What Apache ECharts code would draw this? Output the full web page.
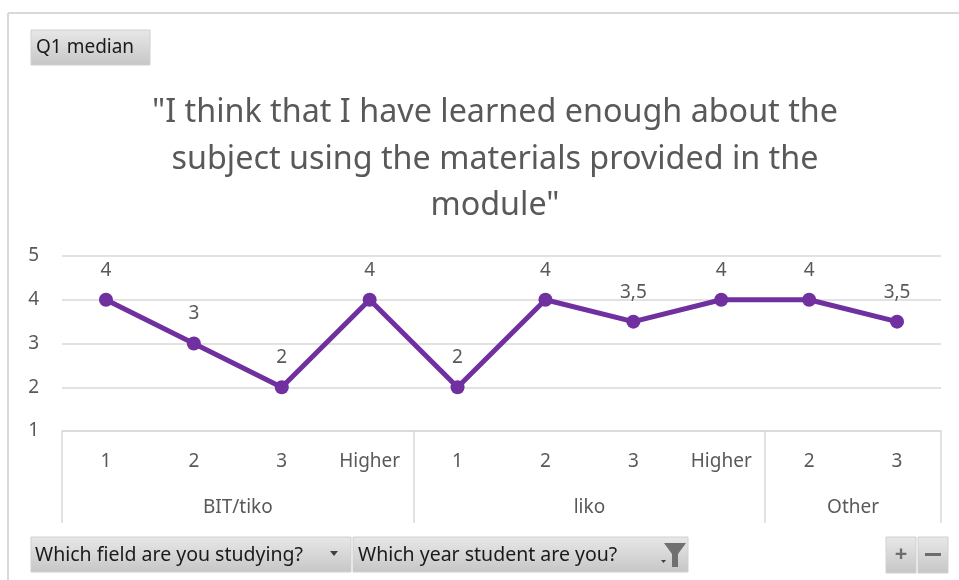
<!DOCTYPE html>
<html><head><meta charset="utf-8">
<script src="https://cdn.jsdelivr.net/npm/echarts@6/dist/echarts.min.js"></script>
<style>html,body{margin:0;padding:0;background:#fff}#c{width:959px;height:580px}</style>
</head><body><div id="c"></div>
<script>
const years = ['1','2','3','Higher','1','2','3','Higher','2','3'];
const groups = ['BIT/tiko','liko','Other'];
const groupSizes = [4,4,2];
const medians = [4,3,2,4,2,4,3.5,4,4,3.5];
const yTicks = [1,2,3,4,5];
const titleText = '"I think that I have learned enough about the\nsubject using the materials provided in the\nmodule"';

const FONT = '"Noto Sans", sans-serif';
const bounds = [0]; groupSizes.forEach(s => bounds.push(bounds[bounds.length-1] + s));
const centers = groupSizes.map((s,i) => bounds[i] + s/2);
const total = bounds[bounds.length-1];

function btnFill(){return new echarts.graphic.LinearGradient(0,0,0,1,[{offset:0,color:'#e8e8e8'},{offset:1,color:'#c6c6c6'}]);}
function button(x,y,w,h){return {type:'rect',shape:{x:x,y:y,width:w,height:h},style:{fill:btnFill(),stroke:'#d0d0d0',lineWidth:1},silent:true};}
function label(x,y,t,s){return {type:'text',x:x,y:y,style:{text:t,font:(s||19.5)+'px '+FONT,fill:'#1a1a1a',textVerticalAlign:'middle'},silent:true};}

const chart = echarts.init(document.getElementById('c'));
chart.setOption({
  animation:false,
  title:{text:titleText,left:490,top:85,textAlign:'center',
    textStyle:{fontFamily:FONT,fontSize:32.3,fontWeight:'normal',color:'#595959',lineHeight:46.5}},
  grid:{left:62,right:18,top:256,bottom:149},
  xAxis:[
    {type:'category',data:years,boundaryGap:true,position:'bottom',offset:0,
      axisLine:{show:true,lineStyle:{color:'#d9d9d9',width:1.5}},
      axisTick:{show:false},
      axisLabel:{interval:0,margin:21,fontFamily:FONT,fontSize:19,color:'#595959'}},
    {type:'value',min:0,max:total,position:'bottom',offset:0,
      axisLine:{show:false},splitLine:{show:false},
      axisTick:{show:true,customValues:bounds,length:92,lineStyle:{color:'#d9d9d9',width:1.5}},
      axisLabel:{customValues:centers,margin:67,fontFamily:FONT,fontSize:19,color:'#595959',
        formatter:function(v){const i=centers.indexOf(v);return i>=0?groups[i]:'';}}}
  ],
  yAxis:{type:'value',min:yTicks[0],max:yTicks[yTicks.length-1],interval:1,
    axisLine:{show:false},axisTick:{show:false},
    splitLine:{lineStyle:{color:'#d9d9d9',width:1.5}},
    axisLabel:{margin:23,fontFamily:FONT,fontSize:19,color:'#595959'}},
  series:[{type:'line',data:medians,xAxisIndex:0,
    symbol:'circle',symbolSize:14,
    lineStyle:{color:'#7030A0',width:5},itemStyle:{color:'#7030A0'},
    label:{show:true,position:'top',distance:13,fontFamily:FONT,fontSize:19,color:'#595959',
      formatter:function(p){return String(p.value).replace('.',',');}}}],
  graphic:[
    {type:'line',shape:{x1:8,y1:13,x2:959,y2:13},style:{stroke:'#d9d9d9',lineWidth:2},silent:true},
    {type:'line',shape:{x1:8,y1:13,x2:8,y2:580},style:{stroke:'#d9d9d9',lineWidth:2},silent:true},
    button(31,30,119,35), label(36,48,'Q1 median',19),
    button(31,537,320,35), label(35,555,'Which field are you studying?'),
    {type:'polygon',shape:{points:[[330,551],[338,551],[334,556]]},style:{fill:'#404040'},silent:true},
    button(353,537,335,35), label(358,555,'Which year student are you?'),
    {type:'polygon',shape:{points:[[661,560],[666,560],[663.5,563]]},style:{fill:'#404040'},silent:true},
    {type:'polygon',shape:{points:[[664,543],[686,543],[678,554],[678,567],[672,567],[672,554]]},style:{fill:'#707070'},silent:true},
    button(886,537,30,36),
    {type:'text',x:901,y:555,style:{text:'+',font:'bold 22px '+FONT,fill:'#6d6d6d',textAlign:'center',textVerticalAlign:'middle'},silent:true},
    button(918,537,30,36),
    {type:'rect',shape:{x:925,y:553,width:16,height:3},style:{fill:'#6d6d6d'},silent:true}
  ]
});
</script></body></html>
